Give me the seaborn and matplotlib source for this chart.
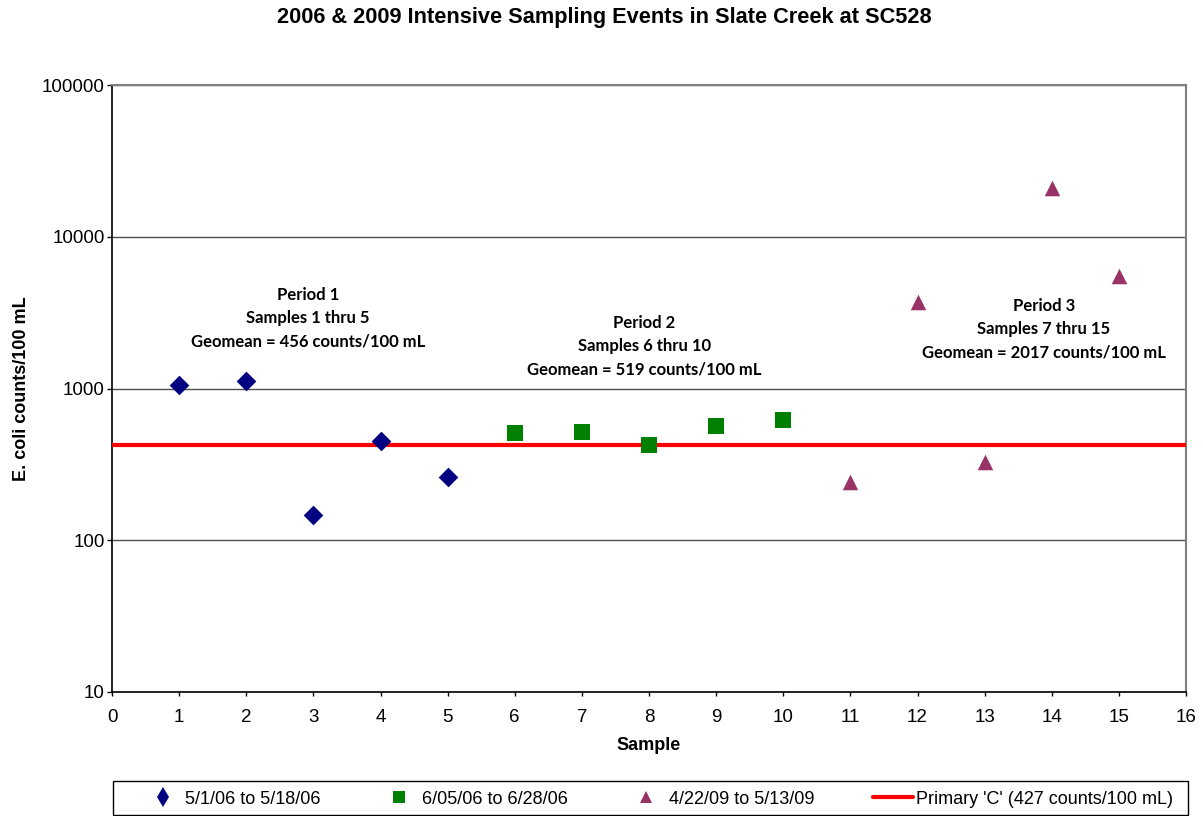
import matplotlib
matplotlib.use("Agg")
import matplotlib.pyplot as plt
from matplotlib.lines import Line2D
from matplotlib.patches import Rectangle
from matplotlib.ticker import FixedLocator, NullLocator
import pandas as pd
import seaborn as sns

# E. coli results (counts/100 mL) by sample number
samples_p1 = [1, 2, 3, 4, 5]
counts_p1 = [1050, 1120, 147, 450, 261]
samples_p2 = [6, 7, 8, 9, 10]
counts_p2 = [509, 517, 424, 566, 620]
samples_p3 = [11, 12, 13, 14, 15]
counts_p3 = [242, 3700, 328, 21000, 5500]

series_labels = ["5/1/06 to 5/18/06", "6/05/06 to 6/28/06", "4/22/09 to 5/13/09"]
standard_value = 427
standard_label = "Primary 'C' (427 counts/100 mL)"

y_ticks = [10, 100, 1000, 10000, 100000]
x_ticks = list(range(0, 17))

period_notes = [
    (2.92, 2917, "Period 1\nSamples 1 thru 5\nGeomean = 456 counts/100 mL"),
    (7.93, 1905, "Period 2\nSamples 6 thru 10\nGeomean = 519 counts/100 mL"),
    (13.88, 2466, "Period 3\nSamples 7 thru 15\nGeomean = 2017 counts/100 mL"),
]

sns.set_theme(style="white")
plt.rcParams["font.family"] = ["Liberation Sans", "DejaVu Sans"]
plt.rcParams.update({
    "text.color": "black",
    "axes.labelcolor": "black",
    "xtick.color": "black",
    "ytick.color": "black",
})

fig = plt.figure(figsize=(12.03, 8.16), dpi=100)
ax = fig.add_axes([112 / 1203, 124 / 816, 1074 / 1203, 607 / 816])

colors = ["#000080", "#008000", "#993366"]
markers = ["D", "s", "^"]
sizes = [100, 135, 125]

frames = []
for xs, ys, lab in zip([samples_p1, samples_p2, samples_p3],
                       [counts_p1, counts_p2, counts_p3], series_labels):
    frames.append(pd.DataFrame({"Sample": xs, "Count": ys, "Period": lab}))

for df, c, m, s in zip(frames, colors, markers, sizes):
    sns.scatterplot(data=df, x="Sample", y="Count", ax=ax, color=c,
                    marker=m, s=s, linewidth=0, zorder=4, legend=False)

ax.axhline(standard_value, color="#FF0000", linewidth=3, zorder=3)

ax.set_yscale("log")
ax.set_ylim(y_ticks[0], y_ticks[-1])
ax.set_xlim(x_ticks[0], x_ticks[-1])
ax.yaxis.set_major_locator(FixedLocator(y_ticks))
ax.yaxis.set_minor_locator(NullLocator())
ax.set_yticklabels([str(v) for v in y_ticks])
ax.set_xticks(x_ticks)
ax.set_xticklabels([str(v) for v in x_ticks])

ax.grid(axis="y", color="#505050", linewidth=1, zorder=1)
ax.set_axisbelow(True)
for side in ["left", "bottom"]:
    ax.spines[side].set_color("black")
    ax.spines[side].set_linewidth(1.2)
for side in ["top", "right"]:
    ax.spines[side].set_color("#808080")
    ax.spines[side].set_linewidth(1.5)

ax.tick_params(axis="y", which="major", left=True, direction="out",
               length=3.6, width=1, color="black", labelsize=13.5, pad=1.5)
ax.tick_params(axis="x", which="major", bottom=True, direction="out",
               length=3, width=1, color="black", labelsize=13.5, pad=9)

ax.set_xlabel("Sample", fontsize=13, fontweight="bold", labelpad=8)
ax.set_ylabel("E. coli counts/100 mL", fontsize=13, fontweight="bold",
              labelpad=9)

fig.suptitle("2006 & 2009 Intensive Sampling Events in Slate Creek at SC528",
             x=604 / 1203, y=1 - 17 / 816, va="center", fontsize=15.7,
             fontweight="bold")

for xv, yv, txt in period_notes:
    ax.text(xv, yv, txt, ha="center", va="center", fontsize=12,
            fontweight="bold", family=["Lato", "DejaVu Sans"],
            linespacing=1.55, zorder=5)

handles = [
    Line2D([], [], linestyle="none", marker="d", markersize=10,
           color=colors[0], markeredgewidth=0),
    Line2D([], [], linestyle="none", marker="s", markersize=8,
           color=colors[1], markeredgewidth=0),
    Line2D([], [], linestyle="none", marker="^", markersize=9,
           color=colors[2], markeredgewidth=0),
    Line2D([], [], color="#FF0000", linewidth=3),
]
leg = fig.legend(handles, series_labels + [standard_label], ncol=4,
                 loc="center left", bbox_to_anchor=(143 / 1203, 17 / 816),
                 frameon=False, fontsize=13, handlelength=2.2,
                 handletextpad=0.15, columnspacing=3.25,
                 borderaxespad=0, borderpad=0)

# black box around the legend row
fig.patches.append(Rectangle((113 / 1203, 1 / 816), 1075 / 1203, 34 / 816,
                             transform=fig.transFigure, fill=False,
                             edgecolor="black", linewidth=1))

fig.savefig("out.png", dpi=100)
